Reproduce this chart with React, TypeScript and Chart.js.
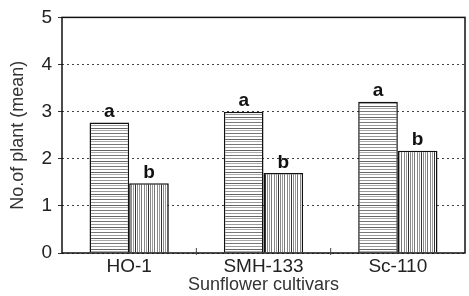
import React, { useEffect, useRef } from "react";
import { Chart, registerables } from "chart.js";

Chart.register(...registerables);

const categories = ["HO-1", "SMH-133", "Sc-110"];
const seriesA = [2.77, 3.0, 3.21];
const seriesB = [1.48, 1.7, 2.17];
const letterA = ["a", "a", "a"];
const letterB = ["b", "b", "b"];
const yTicks = [0, 1, 2, 3, 4, 5];

function makePattern(kind: "h" | "v"): CanvasPattern | string {
  const c = document.createElement("canvas");
  const ctx = c.getContext("2d");
  if (!ctx) return "#fff";
  if (kind === "h") {
    c.width = 4;
    c.height = 11;
    ctx.fillStyle = "#ffffff";
    ctx.fillRect(0, 0, 4, 11);
    const rows: [number, string][] = [[1, "#777"], [4, "#999"], [7, "#666"], [9, "#aaa"]];
    rows.forEach(([y, col]) => {
      ctx.fillStyle = col;
      ctx.fillRect(0, y, 4, 1);
    });
  } else {
    c.width = 13;
    c.height = 4;
    ctx.fillStyle = "#ffffff";
    ctx.fillRect(0, 0, 13, 4);
    const cols: [number, string][] = [[1, "#888"], [3, "#999"], [5, "#333"], [7, "#888"], [9, "#999"], [11, "#777"]];
    cols.forEach(([x, col]) => {
      ctx.fillStyle = col;
      ctx.fillRect(x, 0, 1, 4);
    });
  }
  const p = ctx.createPattern(c, "repeat");
  return p || "#fff";
}

const framePlugin = {
  id: "frame",
  afterDatasetsDraw(chart: any) {
    const { ctx, chartArea } = chart;
    ctx.save();
    ctx.strokeStyle = "#111";
    ctx.lineWidth = 1.5;
    ctx.strokeRect(chartArea.left, chartArea.top, chartArea.right - chartArea.left, chartArea.bottom - chartArea.top);
    const xs = chart.scales.x;
    ctx.lineWidth = 1;
    ctx.strokeStyle = "#444";
    for (let i = 1; i < categories.length; i++) {
      const xp = (xs.getPixelForValue(i - 1) + xs.getPixelForValue(i)) / 2;
      ctx.beginPath();
      ctx.moveTo(xp, chartArea.bottom - 5);
      ctx.lineTo(xp, chartArea.bottom + 2);
      ctx.stroke();
    }
    ctx.fillStyle = "#111";
    ctx.font = "bold 19px 'Liberation Sans', Arial, sans-serif";
    ctx.textAlign = "center";
    ctx.textBaseline = "bottom";
    const letters = [letterA, letterB];
    chart.data.datasets.forEach((ds: any, di: number) => {
      const meta = chart.getDatasetMeta(di);
      meta.data.forEach((el: any, i: number) => {
        ctx.fillText(letters[di][i], el.x, el.y - 1);
      });
    });
    ctx.restore();
  },
};

export default function App() {
  const ref = useRef<HTMLCanvasElement>(null);
  useEffect(() => {
    if (!ref.current) return;
    const font = "'Liberation Sans', Arial, sans-serif";
    const chart = new Chart(ref.current, {
      type: "bar",
      data: {
        labels: categories,
        datasets: [
          {
            label: "a",
            data: seriesA,
            backgroundColor: makePattern("h") as any,
            borderColor: "#111",
            borderWidth: 1.5,
            categoryPercentage: 0.59,
            barPercentage: 1.0,
          },
          {
            label: "b",
            data: seriesB,
            backgroundColor: makePattern("v") as any,
            borderColor: "#111",
            borderWidth: 1.5,
            categoryPercentage: 0.59,
            barPercentage: 1.0,
          },
        ],
      },
      options: {
        animation: false,
        responsive: false,
        maintainAspectRatio: false,
        layout: { padding: { left: 0, right: 4, top: 16, bottom: 0 } },
        plugins: { legend: { display: false }, tooltip: { enabled: false } },
        scales: {
          x: {
            grid: { display: false, drawTicks: false },
            border: { display: false },
            ticks: { color: "#222", font: { family: font, size: 19 }, padding: 2 },
            title: {
              display: true,
              text: "Sunflower cultivars",
              color: "#333",
              font: { family: font, size: 18 },
              padding: { top: 0, bottom: 0 },
            },
            afterFit: (s: any) => {
              s.height = 43;
            },
          },
          y: {
            min: 0,
            max: 5,
            afterBuildTicks: (s: any) => {
              s.ticks = yTicks.map((v) => ({ value: v }));
            },
            grid: {
              color: "#444",
              lineWidth: 1,
              tickLength: 4,
              tickColor: "#333",
              tickBorderDash: [],
              borderDash: [2, 3],
            } as any,
            border: { display: false, dash: [2, 3] },
            ticks: { color: "#222", font: { family: font, size: 19 }, padding: 6 },
            title: {
              display: true,
              text: "No.of plant (mean)",
              color: "#333",
              font: { family: font, size: 18 },
              padding: { top: 7, bottom: 0 },
            },
            afterFit: (s: any) => {
              s.width = 62;
            },
          },
        },
      },
      plugins: [framePlugin],
    });
    return () => chart.destroy();
  }, []);
  return (
    <div style={{ position: "fixed", left: 0, top: 0, width: 469, height: 296, background: "#fff" }}>
      <canvas ref={ref} width={469} height={296} style={{ width: 469, height: 296 }} />
    </div>
  );
}
